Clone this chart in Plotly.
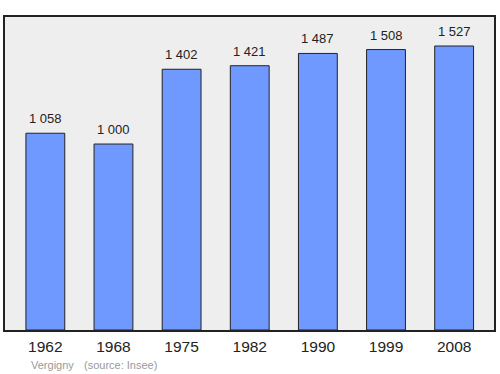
import plotly.graph_objects as go

years = ["1962", "1968", "1975", "1982", "1990", "1999", "2008"]
population = [1058, 1000, 1402, 1421, 1487, 1508, 1527]
labels = ["1 058", "1 000", "1 402", "1 421", "1 487", "1 508", "1 527"]

fig = go.Figure()
fig.add_trace(go.Bar(
    x=years, y=population,
    width=0.57,
    marker=dict(color="#7099ff", line=dict(color="#222222", width=1)),
    hoverinfo="skip",
))

for i, (v, lab) in enumerate(zip(population, labels)):
    fig.add_annotation(x=i, y=v, text=lab, showarrow=False, yanchor="bottom",
                       yshift=5, font=dict(size=13, color="#222222", family="Liberation Sans"))

fig.add_annotation(xref="paper", yref="paper", x=(29-5)/491, y=-(365-330)/313,
                   xanchor="left", yanchor="middle", showarrow=False,
                   text="Vergigny", font=dict(size=11, color="#999999", family="Liberation Sans"))
fig.add_annotation(xref="paper", yref="paper", x=(82-5)/491, y=-(365-330)/313,
                   xanchor="left", yanchor="middle", showarrow=False,
                   text="(source: Insee)", font=dict(size=11, color="#999999", family="Liberation Sans"))

fig.update_layout(
    width=500, height=374,
    margin=dict(l=5, r=4, t=17, b=44),
    paper_bgcolor="white",
    plot_bgcolor="#eeeeee",
    showlegend=False,
    font=dict(family="Liberation Sans"),
    xaxis=dict(type="category", range=[-0.592, 6.585], showline=True, mirror=True,
               linecolor="#222222", linewidth=1.5, showgrid=False, ticks="",
               ticklabelstandoff=2,
               tickfont=dict(size=15.5, color="#222222"), fixedrange=True),
    yaxis=dict(range=[0, 1683], showline=True, mirror=True, linecolor="#222222",
               linewidth=1.5, showgrid=False, showticklabels=False, ticks="",
               zeroline=False, fixedrange=True),
)

fig.write_html("out.html")
